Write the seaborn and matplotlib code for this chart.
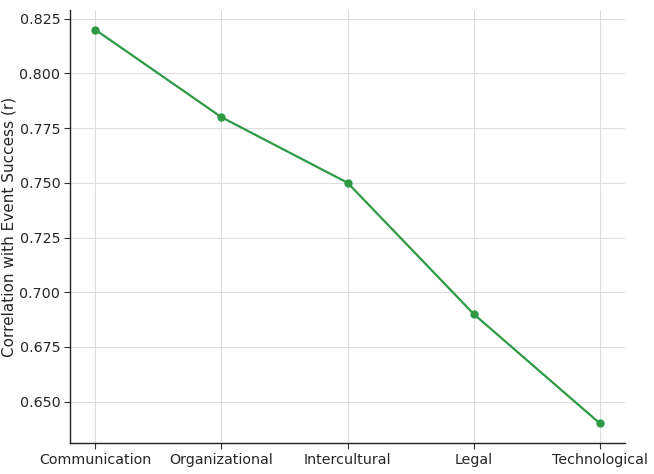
import pandas as pd
import seaborn as sns
import matplotlib.pyplot as plt

categories = ["Communication", "Organizational", "Intercultural", "Legal", "Technological"]
correlations = [0.82, 0.78, 0.75, 0.69, 0.64]

df = pd.DataFrame({"skill": categories, "r": correlations})

sns.set_style("whitegrid")
plt.rcParams["font.family"] = ["DejaVu Sans"]
fig, ax = plt.subplots(figsize=(6.54, 4.74), dpi=100)
fig.subplots_adjust(left=0.107, right=0.956, bottom=0.065, top=0.979)

sns.lineplot(data=df, x="skill", y="r", marker="o", color="#2e9a45",
             markersize=6, markeredgewidth=0, linewidth=1.6, ax=ax, sort=False)

ax.set_xlabel("")
ax.set_ylabel("Correlation with Event Success (r)", fontsize=11, labelpad=2)
ax.tick_params(axis="both", labelsize=10.3, length=4, color="#333333", left=True, bottom=True, pad=3)
ax.grid(True, color="#dddddd", linewidth=0.8)
for side in ["top", "right"]:
    ax.spines[side].set_visible(False)
for side in ["left", "bottom"]:
    ax.spines[side].set_color("#222222")
    ax.spines[side].set_linewidth(1.0)
ax.yaxis.set_major_formatter(plt.FormatStrFormatter("%.3f"))

fig.savefig("out.png", dpi=100)
